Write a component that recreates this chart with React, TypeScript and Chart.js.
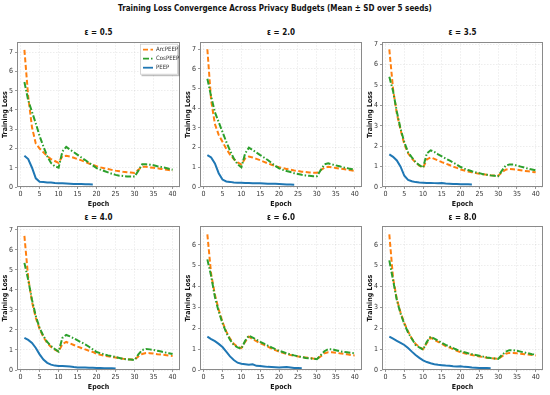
import React, { useEffect, useRef } from "react";
import { Chart, registerables } from "chart.js";
Chart.register(...registerables);

const FONT = "'DejaVu Sans Condensed', 'DejaVu Sans', sans-serif";

const EPOCHS = [1, 2, 3, 4, 5, 6, 7, 8, 9, 10, 11, 12, 13, 14, 15, 16, 17, 18, 19, 20, 21, 22, 23, 24, 25, 26, 27, 28, 29, 30, 31, 32, 33, 34, 35, 36, 37, 38, 39, 40];
const X_TICKS = [0, 5, 10, 15, 20, 25, 30, 35, 40];
const SERIES_NAMES = ["ArcPEEP", "CosPEEP", "PEEP"];
const PANEL_TITLES = ["ε = 0.5", "ε = 2.0", "ε = 3.5", "ε = 4.0", "ε = 6.0", "ε = 8.0"];
const MAIN_TITLE = "Training Loss Convergence Across Privacy Budgets (Mean ± SD over 5 seeds)";

// eps = 0.5
const ARC_05 = [7.12, 4.7, 3.1, 2.25, 2.0, 1.8, 1.6, 1.45, 1.35, 1.25, 1.6, 1.62, 1.58, 1.52, 1.45, 1.38, 1.3, 1.22, 1.15, 1.08, 1.02, 0.97, 0.93, 0.89, 0.85, 0.82, 0.79, 0.77, 0.75, 0.73, 0.9, 1.05, 1.05, 1.02, 1.0, 0.97, 0.94, 0.91, 0.88, 0.85];
const COS_05 = [5.45, 4.5, 3.9, 3.3, 2.65, 2.1, 1.6, 1.25, 1.08, 1.0, 1.85, 2.08, 1.94, 1.81, 1.67, 1.53, 1.4, 1.26, 1.12, 0.98, 0.9, 0.83, 0.76, 0.69, 0.63, 0.59, 0.57, 0.55, 0.54, 0.54, 0.85, 1.18, 1.18, 1.16, 1.13, 1.08, 1.04, 1.0, 0.95, 0.9];
const PEEP_05 = [1.62, 1.45, 1.0, 0.45, 0.27, 0.26, 0.24, 0.23, 0.21, 0.2, 0.19, 0.18, 0.17, 0.16, 0.15, 0.15, 0.14, 0.14, 0.13];
// eps = 2.0
const ARC_20 = [7.0, 4.4, 3.2, 2.65, 2.3, 1.95, 1.65, 1.42, 1.25, 1.15, 1.45, 1.55, 1.5, 1.43, 1.36, 1.28, 1.2, 1.13, 1.06, 1.0, 0.96, 0.92, 0.88, 0.84, 0.81, 0.78, 0.76, 0.74, 0.73, 0.72, 0.85, 0.98, 1.03, 1.0, 0.97, 0.94, 0.91, 0.88, 0.85, 0.82];
const COS_20 = [5.5, 4.6, 3.8, 3.3, 2.8, 2.3, 1.85, 1.45, 1.15, 1.0, 1.7, 2.0, 1.88, 1.75, 1.62, 1.5, 1.37, 1.22, 1.07, 0.95, 0.87, 0.81, 0.76, 0.7, 0.66, 0.62, 0.59, 0.57, 0.55, 0.55, 0.85, 1.15, 1.2, 1.15, 1.1, 1.05, 1.0, 0.96, 0.92, 0.88];
const PEEP_20 = [1.62, 1.5, 1.2, 0.7, 0.38, 0.28, 0.26, 0.23, 0.22, 0.21, 0.2, 0.2, 0.19, 0.19, 0.19, 0.18, 0.17, 0.16, 0.16, 0.15, 0.14, 0.13, 0.13, 0.12];
// eps = 3.5
const ARC_35 = [6.75, 4.8, 3.6, 2.8, 2.1, 1.65, 1.4, 1.2, 1.05, 0.95, 1.35, 1.45, 1.38, 1.3, 1.22, 1.15, 1.08, 1.0, 0.94, 0.86, 0.81, 0.76, 0.72, 0.68, 0.65, 0.62, 0.6, 0.57, 0.56, 0.55, 0.72, 0.85, 0.88, 0.87, 0.85, 0.82, 0.79, 0.77, 0.74, 0.72];
const COS_35 = [5.4, 4.7, 3.7, 2.85, 2.2, 1.7, 1.45, 1.22, 1.07, 0.95, 1.65, 1.8, 1.72, 1.6, 1.5, 1.4, 1.3, 1.2, 1.1, 0.98, 0.9, 0.83, 0.77, 0.72, 0.68, 0.63, 0.6, 0.57, 0.55, 0.53, 0.8, 1.05, 1.1, 1.1, 1.05, 1.0, 0.95, 0.9, 0.86, 0.82];
const PEEP_35 = [1.6, 1.48, 1.3, 1.0, 0.55, 0.35, 0.28, 0.24, 0.22, 0.21, 0.2, 0.2, 0.19, 0.18, 0.2, 0.17, 0.16, 0.15, 0.15, 0.14, 0.13, 0.13, 0.12];
// eps = 4.0
const ARC_40 = [6.7, 4.6, 3.4, 2.6, 2.05, 1.65, 1.35, 1.15, 1.02, 0.92, 1.3, 1.4, 1.33, 1.25, 1.17, 1.1, 1.03, 0.96, 0.9, 0.8, 0.76, 0.72, 0.68, 0.65, 0.62, 0.59, 0.56, 0.54, 0.53, 0.52, 0.68, 0.8, 0.85, 0.84, 0.82, 0.79, 0.77, 0.75, 0.72, 0.7];
const COS_40 = [5.35, 4.5, 3.5, 2.7, 2.1, 1.7, 1.4, 1.2, 1.05, 0.92, 1.6, 1.75, 1.68, 1.58, 1.48, 1.38, 1.28, 1.16, 1.03, 0.9, 0.84, 0.78, 0.73, 0.69, 0.65, 0.6, 0.55, 0.53, 0.52, 0.5, 0.78, 1.0, 1.05, 1.03, 1.0, 0.96, 0.92, 0.88, 0.84, 0.8];
const PEEP_40 = [1.6, 1.5, 1.35, 1.1, 0.78, 0.52, 0.36, 0.27, 0.22, 0.2, 0.2, 0.19, 0.18, 0.15, 0.13, 0.12, 0.12, 0.11, 0.11, 0.1, 0.1, 0.09, 0.09, 0.09, 0.08];
// eps = 6.0
const ARC_60 = [6.5, 4.6, 3.6, 2.9, 2.3, 1.85, 1.5, 1.25, 1.12, 1.05, 1.35, 1.6, 1.48, 1.38, 1.28, 1.2, 1.12, 1.02, 0.95, 0.88, 0.82, 0.77, 0.72, 0.68, 0.65, 0.62, 0.6, 0.58, 0.55, 0.53, 0.65, 0.8, 0.85, 0.85, 0.83, 0.8, 0.78, 0.75, 0.72, 0.7];
const COS_60 = [5.3, 4.5, 3.5, 2.8, 2.25, 1.8, 1.45, 1.2, 1.08, 1.02, 1.4, 1.65, 1.55, 1.45, 1.35, 1.26, 1.17, 1.08, 1.0, 0.92, 0.86, 0.8, 0.75, 0.7, 0.66, 0.62, 0.58, 0.56, 0.54, 0.52, 0.7, 0.9, 1.0, 1.0, 0.95, 0.9, 0.87, 0.85, 0.82, 0.8];
const PEEP_60 = [1.6, 1.48, 1.38, 1.25, 1.1, 0.88, 0.65, 0.48, 0.35, 0.3, 0.28, 0.25, 0.27, 0.2, 0.19, 0.17, 0.15, 0.14, 0.13, 0.12, 0.13, 0.14, 0.12, 0.1, 0.09, 0.08];
// eps = 8.0
const ARC_80 = [6.5, 4.4, 3.4, 2.75, 2.25, 1.85, 1.5, 1.25, 1.1, 1.0, 1.3, 1.55, 1.45, 1.35, 1.25, 1.15, 1.08, 1.0, 0.92, 0.85, 0.8, 0.76, 0.72, 0.68, 0.65, 0.62, 0.59, 0.57, 0.55, 0.53, 0.65, 0.78, 0.82, 0.82, 0.8, 0.78, 0.76, 0.74, 0.72, 0.7];
const COS_80 = [5.25, 4.3, 3.35, 2.7, 2.2, 1.8, 1.5, 1.2, 1.08, 0.98, 1.35, 1.6, 1.5, 1.4, 1.3, 1.2, 1.13, 1.05, 0.97, 0.9, 0.85, 0.8, 0.76, 0.72, 0.68, 0.64, 0.6, 0.57, 0.55, 0.53, 0.72, 0.88, 0.95, 0.95, 0.92, 0.88, 0.84, 0.8, 0.76, 0.74];
const PEEP_80 = [1.6, 1.5, 1.4, 1.3, 1.2, 1.05, 0.88, 0.72, 0.58, 0.46, 0.38, 0.32, 0.28, 0.25, 0.23, 0.21, 0.2, 0.18, 0.17, 0.18, 0.15, 0.14, 0.12, 0.11, 0.1, 0.09, 0.09, 0.08];

const Y_MAX = [7.52, 7.36, 7.1, 7.18, 6.89, 6.89];

const PANEL_DATA = [
  [ARC_05, COS_05, PEEP_05],
  [ARC_20, COS_20, PEEP_20],
  [ARC_35, COS_35, PEEP_35],
  [ARC_40, COS_40, PEEP_40],
  [ARC_60, COS_60, PEEP_60],
  [ARC_80, COS_80, PEEP_80],
];

const COLORS = ["#ff7f0e", "#2ca02c", "#1f77b4"];
const DASHES = [[5, 2.5], [6, 2, 1.5, 2], []];

// layout (chart-area geometry)
const AREA_LEFT = [17, 200, 382];
const AREA_RIGHT = [180, 362, 543];
const AREA_TOP = [42, 226];
const AREA_BOTTOM = [187, 370];
const Y_AXIS_W = 17;
const X_AXIS_H = 21;
const PAD_TOP = 6;
const PAD_RIGHT = 5;

const framePlugin = {
  id: "frame",
  afterDraw(chart: any) {
    const { ctx, chartArea: a } = chart;
    ctx.save();
    ctx.strokeStyle = "#8a8a8a";
    ctx.lineWidth = 1;
    ctx.strokeRect(Math.round(a.left) + 0.5, Math.round(a.top) + 0.5, Math.round(a.right - a.left) - 1, Math.round(a.bottom - a.top) - 1);
    ctx.restore();
  },
};

const legendPlugin = {
  id: "boxLegend",
  afterDraw(chart: any, _args: any, opts: any) {
    if (!opts || !opts.show) return;
    const { ctx, chartArea: a } = chart;
    const w = 38, h = 31;
    const x = a.right - w - 2;
    const y = a.top + 1.5;
    ctx.save();
    ctx.fillStyle = "rgba(0,0,0,0.25)";
    ctx.fillRect(x + 1.5, y + 1.5, w, h);
    ctx.fillStyle = "#ffffff";
    ctx.fillRect(x, y, w, h);
    ctx.strokeStyle = "#cccccc";
    ctx.lineWidth = 0.8;
    ctx.strokeRect(x + 0.5, y + 0.5, w - 1, h - 1);
    ctx.font = `6px ${FONT}`;
    ctx.textBaseline = "middle";
    ctx.textAlign = "left";
    SERIES_NAMES.forEach((name, i) => {
      const ly = y + 6 + i * 9;
      ctx.strokeStyle = COLORS[i];
      ctx.lineWidth = 1.8;
      ctx.setLineDash(DASHES[i]);
      ctx.beginPath();
      ctx.moveTo(x + 3, ly);
      ctx.lineTo(x + 13, ly);
      ctx.stroke();
      ctx.setLineDash([]);
      ctx.fillStyle = "#333333";
      ctx.fillText(name, x + 16, ly);
    });
    ctx.restore();
  },
};

function Panel({ index }: { index: number }) {
  const ref = useRef<HTMLCanvasElement | null>(null);
  const col = index % 3;
  const row = Math.floor(index / 3);
  const left = AREA_LEFT[col] - Y_AXIS_W;
  const top = AREA_TOP[row] - PAD_TOP;
  const width = AREA_RIGHT[col] - left + PAD_RIGHT;
  const height = AREA_BOTTOM[row] + X_AXIS_H - top;

  useEffect(() => {
    if (!ref.current) return;
    const series = PANEL_DATA[index];
    const tickFont = { size: 7, family: FONT };
    const chart = new Chart(ref.current, {
      type: "line",
      data: {
        datasets: series.map((arr, k) => ({
          label: SERIES_NAMES[k],
          data: arr.map((v, i) => ({ x: EPOCHS[i], y: v })),
          borderColor: COLORS[k],
          backgroundColor: COLORS[k],
          borderDash: DASHES[k],
          borderWidth: 2,
          pointRadius: 0,
          tension: 0,
          fill: false,
          order: k === 2 ? 0 : 3 - k,
        })),
      },
      options: {
        animation: false,
        responsive: false,
        maintainAspectRatio: false,
        devicePixelRatio: 1,
        layout: { padding: { top: PAD_TOP, right: PAD_RIGHT, left: 0, bottom: 0 } },
        plugins: {
          legend: { display: false },
          tooltip: { enabled: false },
          title: { display: false },
          boxLegend: { show: index === 0 },
        } as any,
        scales: {
          x: {
            type: "linear",
            min: -0.95,
            max: 41.95,
            afterBuildTicks: (ax: any) => {
              ax.ticks = X_TICKS.map((v) => ({ value: v }));
            },
            afterFit: (s: any) => {
              s.height = X_AXIS_H;
            },
            grid: { color: "rgba(0,0,0,0.12)", tickColor: "#555", tickLength: 2, drawTicks: true, lineWidth: 0.6 },
            border: { display: false, dash: [1.5, 1.5] },
            ticks: { font: tickFont, color: "#333", padding: 1, maxRotation: 0, autoSkip: false },
            title: { display: true, text: "Epoch", font: { size: 7, weight: "bold", family: FONT }, color: "#111", padding: { top: 0, bottom: 0 } },
          },
          y: {
            type: "linear",
            min: 0,
            max: Y_MAX[index],
            afterBuildTicks: (ax: any) => {
              const t = [];
              for (let v = Math.ceil(ax.min); v <= Math.floor(ax.max); v++) t.push({ value: v });
              ax.ticks = t;
            },
            afterFit: (s: any) => {
              s.width = Y_AXIS_W;
            },
            grid: { color: "rgba(0,0,0,0.12)", tickColor: "#555", tickLength: 2, drawTicks: true, lineWidth: 0.6 },
            border: { display: false, dash: [1.5, 1.5] },
            ticks: { font: tickFont, color: "#333", padding: 2 },
            title: { display: true, text: "Training Loss", font: { size: 7, weight: "bold", family: FONT }, color: "#111", padding: { top: 1, bottom: 0 } },
          },
        },
      } as any,
      plugins: [framePlugin, legendPlugin],
    });
    return () => chart.destroy();
  }, [index]);

  const areaCenter = (AREA_LEFT[col] + AREA_RIGHT[col]) / 2;
  const titleY = row === 0 ? 33 : 218;
  return (
    <>
      <div
        style={{
          position: "absolute",
          left: areaCenter - 60,
          width: 120,
          top: titleY - 6,
          height: 12,
          lineHeight: "12px",
          textAlign: "center",
          fontFamily: FONT,
          fontWeight: "bold",
          fontSize: 8,
          color: "#111",
        }}
      >
        {PANEL_TITLES[index]}
      </div>
      <canvas
        ref={ref}
        width={width}
        height={height}
        style={{ position: "absolute", left, top, width, height }}
      />
    </>
  );
}

export default function App() {
  return (
    <div style={{ position: "fixed", left: 0, top: 0, width: 550, height: 395, background: "#fff", overflow: "hidden" }}>
      <div
        style={{
          position: "absolute",
          left: 0,
          width: 550,
          top: 2,
          height: 14,
          lineHeight: "14px",
          textAlign: "center",
          fontFamily: FONT,
          fontWeight: "bold",
          fontSize: 8,
          color: "#111",
        }}
      >
        {MAIN_TITLE}
      </div>
      {[0, 1, 2, 3, 4, 5].map((i) => (
        <Panel key={i} index={i} />
      ))}
    </div>
  );
}
